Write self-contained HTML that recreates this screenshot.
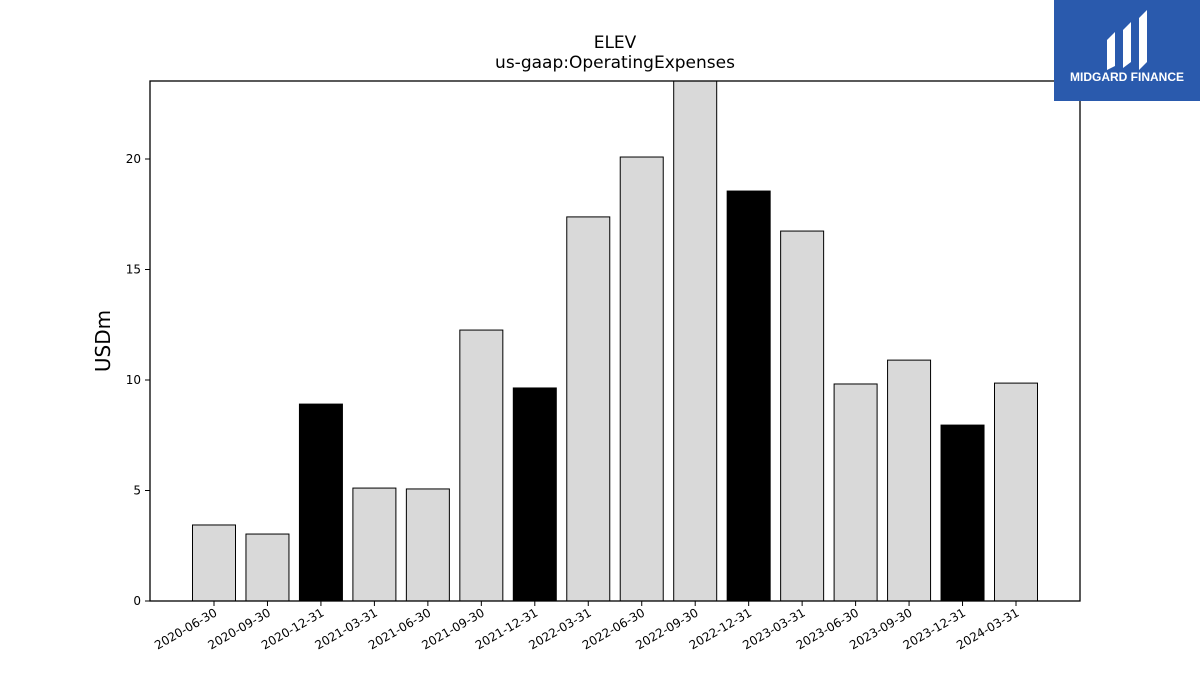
<!DOCTYPE html>
<html><head><meta charset="utf-8">
<style>
body{margin:0;background:#fff;width:1200px;height:675px;overflow:hidden;font-family:"Liberation Sans","DejaVu Sans",sans-serif;}
</style></head>
<body>
<svg width="1200" height="675" xmlns="http://www.w3.org/2000/svg">
<text x="615" y="48" text-anchor="middle" font-size="17" font-family="DejaVu Sans, sans-serif">ELEV</text>
<text x="615" y="68" text-anchor="middle" font-size="17" font-family="DejaVu Sans, sans-serif">us-gaap:OperatingExpenses</text>
<text transform="translate(110,341) rotate(-90)" text-anchor="middle" font-size="20" font-family="DejaVu Sans, sans-serif">USDm</text>
<g id="plot"></g>
<rect x="150" y="81" width="930" height="520" fill="none" stroke="#000" stroke-width="1.3"/>
<g>
<rect x="1054" y="0" width="146" height="101" fill="#2a5aad"/>
<path d="M1107 40 L1115 32 L1115 66 L1107 70 Z M1123 30 L1131 22 L1131 62 L1123 68 Z M1139 18 L1147 10 L1147 62 L1139 70 Z" fill="#fff"/>
<text x="1127" y="81" text-anchor="middle" font-size="12" font-weight="bold" fill="#fff">MIDGARD FINANCE</text>
</g>
</svg>
<script>
const categories=["2020-06-30","2020-09-30","2020-12-31","2021-03-31","2021-06-30","2021-09-30","2021-12-31","2022-03-31","2022-06-30","2022-09-30","2022-12-31","2023-03-31","2023-06-30","2023-09-30","2023-12-31","2024-03-31"];
const values=[3.44,3.03,8.91,5.11,5.07,12.26,9.64,17.38,20.09,23.6,18.55,16.74,9.82,10.9,7.96,9.86];
const annual=[false,false,true,false,false,false,true,false,false,false,true,false,false,false,true,false];
const yTicks=[0,5,10,15,20];
const yMax=23.53;
const px0=150,px1=1080,py0=81,py1=601;
function y(v){return py1-(Math.min(v,yMax))/yMax*(py1-py0);}
function xc(i){return 214+i*(1016-214)/(categories.length-1);}
const bw=43;
const NS="http://www.w3.org/2000/svg";
const g=document.getElementById('plot');
function mk(t,a){const e=document.createElementNS(NS,t);for(const k in a)e.setAttribute(k,a[k]);g.appendChild(e);return e;}
values.forEach((v,i)=>{
  const r=mk('rect',{x:xc(i)-bw/2,y:y(v),width:bw,height:py1-y(v),fill:annual[i]?'#000':'#d9d9d9',stroke:'#000','stroke-width':1});
  
  
  const tk=mk('line',{x1:xc(i),x2:xc(i),y1:py1,y2:py1+5,stroke:'#000'});
  
  
  const t=mk('text',{'font-size':12,'text-anchor':'end',transform:`translate(${xc(i)+4},${py1+14}) rotate(-30)`,'font-family':'DejaVu Sans, sans-serif'});
  t.textContent=categories[i];
  
  
});
yTicks.forEach(v=>{
  const tk=mk('line',{x1:px0-5,x2:px0,y1:y(v),y2:y(v),stroke:'#000'});
  
  
  const t=mk('text',{x:px0-9,y:y(v)+4,'font-size':12,'text-anchor':'end','font-family':'DejaVu Sans, sans-serif'});
  t.textContent=v;
  
  
});
</script>
</body></html>
